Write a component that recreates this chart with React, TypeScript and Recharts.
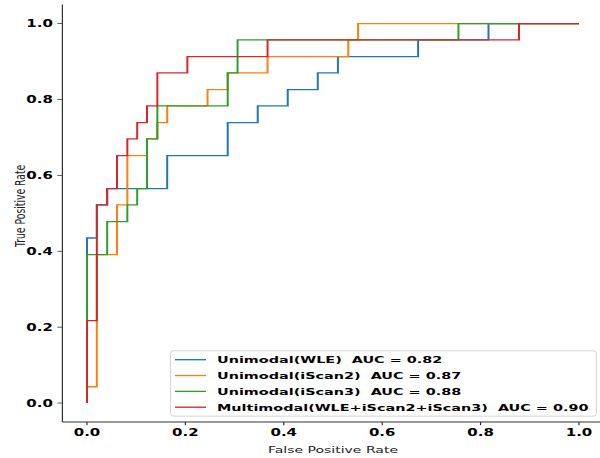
import React from 'react';
import { LineChart, Line, XAxis, YAxis, Legend } from 'recharts';

// ROC curve points (false positive rate, true positive rate)
const wleFpr = [0, 0, 0.020, 0.020, 0.041, 0.041, 0.163, 0.163, 0.286, 0.286, 0.347, 0.347, 0.408, 0.408, 0.469, 0.469, 0.510, 0.510, 0.673, 0.673, 0.816, 0.816, 1.0];
const wleTpr = [0, 0.435, 0.435, 0.522, 0.522, 0.565, 0.565, 0.652, 0.652, 0.739, 0.739, 0.783, 0.783, 0.826, 0.826, 0.870, 0.870, 0.913, 0.913, 0.957, 0.957, 1.0, 1.0];

const iscan2Fpr = [0, 0, 0.020, 0.020, 0.061, 0.061, 0.082, 0.082, 0.122, 0.122, 0.143, 0.143, 0.163, 0.163, 0.245, 0.245, 0.286, 0.286, 0.367, 0.367, 0.531, 0.531, 0.551, 0.551, 1.0];
const iscan2Tpr = [0, 0.043, 0.043, 0.391, 0.391, 0.522, 0.522, 0.652, 0.652, 0.696, 0.696, 0.739, 0.739, 0.783, 0.783, 0.826, 0.826, 0.870, 0.870, 0.913, 0.913, 0.957, 0.957, 1.0, 1.0];

const iscan3Fpr = [0, 0, 0.041, 0.041, 0.082, 0.082, 0.102, 0.102, 0.122, 0.122, 0.143, 0.143, 0.286, 0.286, 0.306, 0.306, 0.755, 0.755, 1.0];
const iscan3Tpr = [0, 0.391, 0.391, 0.478, 0.478, 0.522, 0.522, 0.565, 0.565, 0.696, 0.696, 0.783, 0.783, 0.870, 0.870, 0.957, 0.957, 1.0, 1.0];

const multiFpr = [0, 0, 0.020, 0.020, 0.041, 0.041, 0.061, 0.061, 0.082, 0.082, 0.102, 0.102, 0.122, 0.122, 0.143, 0.143, 0.204, 0.204, 0.367, 0.367, 0.878, 0.878, 1.0];
const multiTpr = [0, 0.217, 0.217, 0.522, 0.522, 0.565, 0.565, 0.652, 0.652, 0.696, 0.696, 0.739, 0.739, 0.783, 0.783, 0.870, 0.870, 0.913, 0.913, 0.957, 0.957, 1.0, 1.0];

const seriesNames = [
  'Unimodal(WLE)  AUC = 0.82',
  'Unimodal(iScan2)  AUC = 0.87',
  'Unimodal(iScan3)  AUC = 0.88',
  'Multimodal(WLE+iScan2+iScan3)  AUC = 0.90',
];
const seriesColors = ['#1f77b4', '#ff7f0e', '#2ca02c', '#d62728'];

const xTicks = [0, 0.2, 0.4, 0.6, 0.8, 1.0];
const yTicks = [0, 0.2, 0.4, 0.6, 0.8, 1.0];
const xLabel = 'False Positive Rate';
const yLabel = 'True Positive Rate';

const toPoints = (fpr: number[], tpr: number[]) => fpr.map((x, i) => ({ x, y: tpr[i] }));
const series = [
  toPoints(wleFpr, wleTpr),
  toPoints(iscan2Fpr, iscan2Tpr),
  toPoints(iscan3Fpr, iscan3Tpr),
  toPoints(multiFpr, multiTpr),
];

const K = 0.66; // vertical squeeze of the reference image
const W = 620;
const H = Math.round(458 / K);
const FONT = "'DejaVu Sans', 'Liberation Sans', sans-serif";
const tickStyle = { fill: '#000', fontSize: 15, fontWeight: 700, fontFamily: FONT };

const XLabelContent = () => (
  <text x={333} y={686} textAnchor="middle" fontSize={14} fontFamily={FONT} fill="#222">
    {xLabel}
  </text>
);

const YLabelContent = () => (
  <text
    x={20}
    y={312}
    transform="rotate(-90, 20, 312)"
    textAnchor="middle"
    dominantBaseline="central"
    fontSize={14}
    fontFamily={FONT}
    fill="#222"
  >
    {yLabel}
  </text>
);

const LegendContent = () => (
  <div
    style={{
      boxSizing: 'border-box',
      width: 427,
      height: 100,
      border: '1px solid #cccccc',
      borderRadius: 4,
      background: 'rgba(255,255,255,0.8)',
      paddingTop: 1,
      fontFamily: FONT,
      fontSize: 14.4,
      fontWeight: 700,
      color: '#000',
    }}
  >
    {seriesNames.map((name, i) => (
      <div key={name} style={{ height: 24, display: 'flex', alignItems: 'center' }}>
        <div style={{ marginLeft: 4, width: 31, height: 2, background: seriesColors[i] }} />
        <span style={{ marginLeft: 11, whiteSpace: 'pre', lineHeight: '24px' }}>{name}</span>
      </div>
    ))}
  </div>
);

export default function App() {
  return (
    <div
      style={{
        position: 'absolute',
        left: 0,
        top: 0,
        width: 600,
        height: 458,
        overflow: 'hidden',
        background: '#fff',
      }}
    >
      <div style={{ width: W, height: H, transform: `scaleY(${K})`, transformOrigin: '0 0' }}>
        <LineChart width={W} height={H} margin={{ top: 7, right: 16.4, left: 0, bottom: 0 }}>
          <XAxis
            type="number"
            dataKey="x"
            domain={[-0.05, 1.05]}
            ticks={xTicks}
            interval={0}
            allowDataOverflow
            tickFormatter={(v: number) => v.toFixed(1)}
            height={54.6}
            tickSize={5}
            tickMargin={6}
            stroke="#333"
            strokeWidth={1.2}
            tick={tickStyle}
            label={{ value: xLabel, content: XLabelContent }}
          />
          <XAxis
            xAxisId="top"
            orientation="top"
            type="number"
            domain={[0, 1]}
            height={0}
            tick={false}
            tickLine={false}
            stroke="#333"
            strokeWidth={1.2}
          />
          <YAxis
            type="number"
            dataKey="y"
            domain={[-0.05, 1.05]}
            ticks={yTicks}
            interval={0}
            allowDataOverflow
            tickFormatter={(v: number) => v.toFixed(1)}
            width={62.4}
            tickSize={5}
            tickMargin={4.5}
            stroke="#333"
            strokeWidth={1.2}
            tick={tickStyle}
            label={{ value: yLabel, content: YLabelContent }}
          />
          {series.map((pts, i) => (
            <Line
              key={seriesNames[i]}
              data={pts}
              dataKey="y"
              name={seriesNames[i]}
              type="linear"
              stroke={seriesColors[i]}
              strokeWidth={2}
              dot={false}
              activeDot={false}
              isAnimationActive={false}
            />
          ))}
          <Legend
            layout="vertical"
            align="center"
            verticalAlign="middle"
            content={LegendContent}
            wrapperStyle={{ position: 'absolute', left: 170, top: 531, width: 427, height: 100 }}
          />
        </LineChart>
      </div>
    </div>
  );
}
